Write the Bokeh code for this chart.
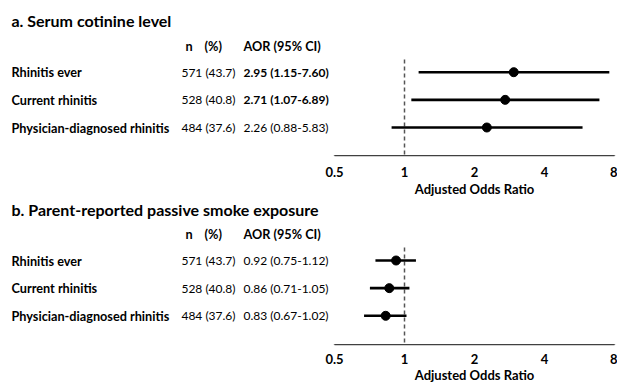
from bokeh.plotting import figure
from bokeh.models import (Range1d, ColumnDataSource, FixedTicker,
                          CustomJSTickFormatter)
from bokeh.layouts import column, row
from bokeh.embed import file_html
from bokeh.resources import INLINE
from bokeh.core.properties import value, field

# ---------------- data ----------------
outcomes = ["Rhinitis ever", "Current rhinitis", "Physician-diagnosed rhinitis"]
n_cases = [571, 528, 484]
n_pct = [43.7, 40.8, 37.6]

aor_a = [2.95, 2.71, 2.26]
lo_a = [1.15, 1.07, 0.88]
hi_a = [7.60, 6.89, 5.83]

aor_b = [0.92, 0.86, 0.83]
lo_b = [0.75, 0.71, 0.67]
hi_b = [1.12, 1.05, 1.02]

x_ticks = [0.5, 1, 2, 4, 8]
tick_labels = ["0.5", "1", "2", "4", "8"]
null_value = 1
titles = ["a. Serum cotinine level", "b. Parent-reported passive smoke exposure"]
header_n = "n"
header_pct = "(%)"
header_aor = "AOR (95% CI)"
x_label = "Adjusted Odds Ratio"

# ---------------- layout constants ----------------
FONT = "Lato"
W = 617
TXT_W = 337             # width of the text column figure
AXIS_LEFT = 334         # pixel of the first tick
AXIS_W = 280            # pixel span of the axis
RIGHT = W - AXIS_LEFT - AXIS_W
DPX = AXIS_W / 4.0      # pixels per doubling
ROW_PX = 27.65          # px between rows
TOP_H = [155, 148]      # height of rows part of each panel
AXIS_H = [41, 38]       # height of axis part of each panel
DASH_TOP = [59, 51]     # px from panel top where the reference line begins
ROW0 = [71.7, 64.0]     # px from panel top of the first row
TICK_STANDOFF = [11, 9]
LABEL_STANDOFF = [1, 0]
TITLE_ROW = -0.86       # in row units
HEADER_ROW = 0.05
X_LABEL, X_N, X_PCT, X_NVAL, X_AOR = 11, 185, 204, 235, 243

series = [(aor_a, lo_a, hi_a), (aor_b, lo_b, hi_b)]


def txt(p, x, y, text, size, style, align="left", source=None):
    kw = dict(x=x, y=y, text=text, text_font=value(FONT), text_font_size=size,
              text_font_style=style, text_color="black",
              text_baseline="middle", text_align=align)
    if source is not None:
        kw["source"] = source
    p.text(**kw)


def bare(p):
    p.outline_line_color = None
    p.xgrid.visible = False
    p.ygrid.visible = False


def make_panel(k):
    aor, lo, hi = series[k]
    ys = list(range(1, len(outcomes) + 1))
    y_top = 1 - ROW0[k] / ROW_PX
    y_bot = 1 + (TOP_H[k] - ROW0[k]) / ROW_PX
    y_dash = 1 - (ROW0[k] - DASH_TOP[k]) / ROW_PX

    # ---- text column ----
    tf = figure(width=TXT_W, height=TOP_H[k],
                x_range=Range1d(0, TXT_W), y_range=Range1d(y_bot, y_top),
                x_axis_location=None, y_axis_location=None,
                toolbar_location=None, output_backend="svg", min_border=0)
    bare(tf)
    txt(tf, [X_LABEL], [TITLE_ROW], [titles[k]], "16px", "bold")
    txt(tf, [X_N], [HEADER_ROW], [header_n], "12.7px", "bold")
    txt(tf, [X_PCT], [HEADER_ROW], [header_pct], "12.7px", "bold")
    txt(tf, [X_AOR], [HEADER_ROW], [header_aor], "12.7px", "bold")
    src_t = ColumnDataSource(dict(
        y=ys, label=outcomes,
        nt=[f"{n} ({q:.1f})" for n, q in zip(n_cases, n_pct)],
        at=[f"{a:.2f} ({l:.2f}-{h:.2f})" for a, l, h in zip(aor, lo, hi)],
        st=["bold" if (l > null_value or h < null_value) else "normal"
            for l, h in zip(lo, hi)],
    ))
    txt(tf, X_LABEL, "y", "label", "12.7px", "bold", source=src_t)
    txt(tf, X_NVAL, "y", "nt", "12px", "normal", align="right", source=src_t)
    txt(tf, X_AOR, "y", "at", "12px", field("st"), source=src_t)

    # ---- forest plot (rows part) ----
    x0 = x_ticks[0] * 2 ** ((TXT_W - AXIS_LEFT) / DPX)
    pf = figure(width=W - TXT_W, height=TOP_H[k], x_axis_type="log",
                x_range=Range1d(x0, x_ticks[-1]), y_range=Range1d(y_bot, y_top),
                x_axis_location=None, y_axis_location=None,
                toolbar_location=None, output_backend="svg",
                min_border_left=0, min_border_right=RIGHT,
                min_border_top=0, min_border_bottom=0)
    bare(pf)
    src = ColumnDataSource(dict(y=ys, aor=aor, lo=lo, hi=hi))
    pf.segment(x0=[null_value], x1=[null_value], y0=[y_dash], y1=[y_bot],
               line_color="#555555", line_width=1.5, line_dash="4 3")
    pf.segment(x0="lo", x1="hi", y0="y", y1="y", source=src,
               line_color="black", line_width=2.6)
    pf.scatter(x="aor", y="y", source=src, size=9, color="black")

    # ---- axis part ----
    pa = figure(width=W, height=AXIS_H[k], x_axis_type="log",
                x_range=Range1d(x_ticks[0], x_ticks[-1]), y_range=Range1d(0, 1),
                y_axis_location=None, toolbar_location=None, output_backend="svg",
                min_border_left=AXIS_LEFT, min_border_right=RIGHT,
                min_border_top=0, min_border_bottom=AXIS_H[k] - 1)
    bare(pa)
    ax = pa.xaxis[0]
    ax.ticker = FixedTicker(ticks=x_ticks, minor_ticks=[])
    ax.formatter = CustomJSTickFormatter(
        args=dict(tv=x_ticks, tl=tick_labels),
        code="const i = tv.findIndex(t => Math.abs(t - tick) < 1e-9); return i >= 0 ? tl[i] : '';")
    ax.axis_line_color = "#404040"
    ax.axis_line_width = 1.5
    ax.major_tick_line_color = "#404040"
    ax.major_tick_line_width = 1.5
    ax.major_tick_in = 4
    ax.major_tick_out = 0
    ax.minor_tick_line_color = None
    ax.major_label_text_font = FONT
    ax.major_label_text_font_style = "bold"
    ax.major_label_text_font_size = "13px"
    ax.major_label_text_color = "black"
    ax.major_label_standoff = TICK_STANDOFF[k]
    ax.axis_label = x_label
    ax.axis_label_text_font = FONT
    ax.axis_label_text_font_style = "bold"
    ax.axis_label_text_font_size = "13px"
    ax.axis_label_text_color = "black"
    ax.axis_label_standoff = LABEL_STANDOFF[k]
    return column(row(tf, pf, spacing=0), pa, spacing=0)


layout = column(make_panel(0), make_panel(1), spacing=0)
open("out.html", "w").write(file_html(layout, INLINE))
